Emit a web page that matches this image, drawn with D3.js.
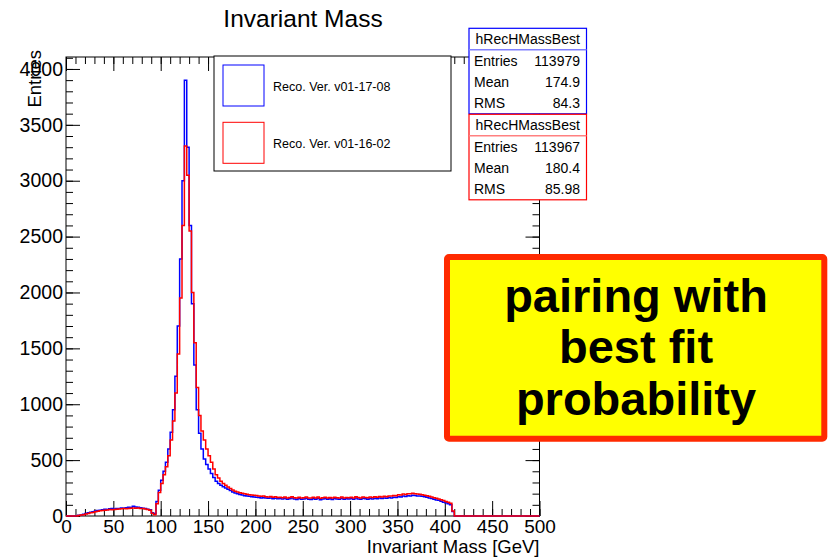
<!DOCTYPE html>
<html>
<head>
<meta charset="utf-8">
<script src="https://cdn.jsdelivr.net/npm/d3@7"></script>
<style>
  body { margin: 0; background: #fff; }
  text { font-family: "Liberation Sans", Arial, Helvetica, sans-serif; }
</style>
</head>
<body>
<div id="chart"></div>
<script>
// histogram binning (GeV)
const binLow = 0;
const binWidth = 2.5;

// counts per 2.5 GeV bin, 0..500 GeV, ten bins per row
const blueCounts = [
  0, 0, 0, 0, 3, 6, 10, 16, 22, 28,
  33, 38, 44, 50, 52, 56, 60, 58, 64, 66,
  62, 68, 66, 72, 70, 74, 78, 76, 88, 80,
  78, 74, 70, 66, 60, 55, 30, 20, 130, 230,
  320, 400, 480, 600, 750, 950, 1250, 1700, 2300, 3000,
  3900, 3300, 2600, 1900, 1350, 950, 740, 600, 510, 460,
  420, 380, 345, 310, 290, 275, 262, 250, 240, 228,
  215, 205, 198, 192, 188, 182, 180, 176, 172, 170,
  168, 165, 162, 164, 160, 158, 162, 155, 158, 154,
  156, 152, 158, 150, 154, 160, 152, 148, 156, 150,
  152, 158, 150, 148, 155, 150, 158, 146, 152, 156,
  150, 154, 148, 156, 152, 150, 158, 150, 154, 152,
  156, 150, 160, 152, 150, 158, 154, 150, 156, 152,
  158, 154, 160, 156, 162, 158, 166, 162, 168, 166,
  172, 170, 178, 174, 182, 180, 186, 184, 180, 178,
  176, 172, 168, 160, 156, 150, 144, 140, 132, 124,
  118, 110, 100, 40, 0, 0, 0, 0, 0, 0,
  0, 0, 0, 0, 0, 0, 0, 0, 0, 0,
  0, 0, 0, 0, 0, 0, 0, 0, 0, 0,
  0, 0, 0, 0, 0, 0, 0, 0, 0, 0
];

const redCounts = [
  0, 0, 0, 0, 1, 4, 8, 12, 18, 22,
  28, 32, 38, 42, 46, 50, 52, 54, 58, 56,
  58, 60, 62, 64, 66, 64, 68, 70, 72, 70,
  72, 68, 66, 62, 58, 52, 25, 12, 110, 210,
  290, 370, 440, 540, 680, 850, 1100, 1450, 1950, 2600,
  3310, 3050, 2550, 2000, 1550, 1150, 900, 760, 680, 600,
  540, 480, 420, 370, 340, 310, 290, 275, 260, 245,
  232, 222, 214, 208, 204, 198, 195, 190, 188, 186,
  184, 180, 176, 178, 172, 170, 174, 168, 172, 166,
  168, 164, 170, 162, 166, 172, 164, 160, 168, 162,
  164, 170, 162, 160, 168, 162, 170, 158, 164, 168,
  162, 166, 160, 168, 164, 162, 170, 162, 166, 164,
  168, 162, 172, 166, 162, 170, 166, 164, 170, 166,
  172, 168, 174, 170, 176, 172, 180, 178, 184, 182,
  190, 188, 196, 192, 200, 198, 204, 200, 196, 194,
  190, 186, 182, 176, 170, 164, 158, 152, 146, 138,
  130, 124, 115, 45, 0, 0, 0, 0, 0, 0,
  0, 0, 0, 0, 0, 0, 0, 0, 0, 0,
  0, 0, 0, 0, 0, 0, 0, 0, 0, 0,
  0, 0, 0, 0, 0, 0, 0, 0, 0, 0
];

const xTicks = [0, 50, 100, 150, 200, 250, 300, 350, 400, 450, 500];
const yTicks = [0, 500, 1000, 1500, 2000, 2500, 3000, 3500, 4000];
const xDomain = [0, 500];
const yDomain = [0, 4107];

const legendLabels = ["Reco. Ver. v01-17-08", "Reco. Ver. v01-16-02"];
const statsNames = ["hRecHMassBest", "hRecHMassBest"];
const statsRows = ["Entries", "Mean", "RMS"];
const statsBlue = ["113979", "174.9", "84.3"];
const statsRed = ["113967", "180.4", "85.98"];
const noteLines = ["pairing with", "best fit", "probability"];

const W = 835, H = 557;
const frame = {left: 66, right: 539.5, top: 57, bottom: 516};

const svg = d3.select("#chart").append("svg")
    .attr("width", W)
    .attr("height", H);

const x = d3.scaleLinear().domain(xDomain).range([frame.left, frame.right]);
const y = d3.scaleLinear().domain(yDomain).range([frame.bottom, frame.top]);

// frame
svg.append("rect")
    .attr("x", frame.left).attr("y", frame.top)
    .attr("width", frame.right - frame.left)
    .attr("height", frame.bottom - frame.top)
    .attr("fill", "none").attr("stroke", "#000").attr("stroke-width", 1);

// axes, ROOT style ticks pointing inward
function drawAxis(axisFn, scale, transform, values, size, labels) {
    let a = axisFn(scale).tickValues(values).tickSizeInner(size).tickSizeOuter(0);
    a.tickFormat(labels ? d3.format("d") : "");
    let g = svg.append("g").attr("transform", transform).call(a);
    g.select(".domain").remove();
    g.selectAll("line").attr("stroke", "#000").attr("stroke-width", 1);
    return g;
}
const xMinor = d3.range(0, 501, 10);
const yMinor = d3.range(0, 4101, 100);

let xb = drawAxis(d3.axisBottom, x, `translate(0,${frame.bottom})`, xTicks, -15, true);
xb.selectAll("text").attr("font-size", 19).attr("fill", "#000").attr("y", 4);
drawAxis(d3.axisBottom, x, `translate(0,${frame.bottom})`, xMinor, -7, false);
drawAxis(d3.axisTop, x, `translate(0,${frame.top})`, xTicks, -14, false);
drawAxis(d3.axisTop, x, `translate(0,${frame.top})`, xMinor, -7, false);

let yl = drawAxis(d3.axisLeft, y, `translate(${frame.left},0)`, yTicks, -14, true);
yl.selectAll("text").attr("font-size", 19.5).attr("fill", "#000").attr("x", -3);
drawAxis(d3.axisLeft, y, `translate(${frame.left},0)`, yMinor, -7, false);
drawAxis(d3.axisRight, y, `translate(${frame.right},0)`, yTicks, -14, false);
drawAxis(d3.axisRight, y, `translate(${frame.right},0)`, yMinor, -7, false);

// histograms
function histPoints(counts) {
    let pts = counts.map((c, i) => [binLow + i * binWidth, c]);
    pts.push([binLow + counts.length * binWidth, counts[counts.length - 1]]);
    return pts;
}
const line = d3.line()
    .x(d => x(d[0]))
    .y(d => y(d[1]))
    .curve(d3.curveStepAfter);

svg.append("path")
    .datum(histPoints(blueCounts))
    .attr("d", line)
    .attr("fill", "none").attr("stroke", "#0000ff").attr("stroke-width", 1.5);
svg.append("path")
    .datum(histPoints(redCounts))
    .attr("d", line)
    .attr("fill", "none").attr("stroke", "#ff0000").attr("stroke-width", 1.5);

// titles
svg.append("text")
    .attr("x", 303).attr("y", 27)
    .attr("text-anchor", "middle")
    .attr("font-size", 24.5)
    .text("Invariant Mass");

svg.append("text")
    .attr("x", frame.right).attr("y", 553)
    .attr("text-anchor", "end")
    .attr("font-size", 18.5)
    .text("Invariant Mass [GeV]");

svg.append("text")
    .attr("transform", "translate(41,50) rotate(-90)")
    .attr("text-anchor", "end")
    .attr("font-size", 18.5)
    .text("Entries");

// legend
let leg = svg.append("g");
leg.append("rect")
    .attr("x", 214).attr("y", 56).attr("width", 237).attr("height", 115)
    .attr("fill", "#fff").attr("stroke", "#000").attr("stroke-width", 1);
const legColors = ["#0000ff", "#ff0000"];
legendLabels.forEach((lab, i) => {
    let top = 65 + i * 57.3;
    leg.append("rect")
        .attr("x", 223).attr("y", top).attr("width", 41).attr("height", 41)
        .attr("fill", "none").attr("stroke", legColors[i]).attr("stroke-width", 1);
    leg.append("text")
        .attr("x", 273).attr("y", top + 25.5)
        .attr("font-size", 12.5)
        .text(lab);
});

// stats boxes
function statsBox(top, color, sepColor, name, values) {
    let g = svg.append("g");
    g.append("rect")
        .attr("x", 469).attr("y", top).attr("width", 117.5).attr("height", 85.5)
        .attr("fill", "#fff").attr("stroke", color).attr("stroke-width", 1.2);
    g.append("line")
        .attr("x1", 469).attr("x2", 586.5)
        .attr("y1", top + 21.5).attr("y2", top + 21.5)
        .attr("stroke", sepColor).attr("stroke-width", 1.5);
    g.append("text")
        .attr("x", 527.7).attr("y", top + 15.8)
        .attr("text-anchor", "middle").attr("font-size", 14)
        .text(name);
    statsRows.forEach((r, i) => {
        let by = top + 37.5 + i * 21.3;
        g.append("text").attr("x", 474).attr("y", by)
            .attr("font-size", 14).text(r);
        g.append("text").attr("x", 580).attr("y", by)
            .attr("text-anchor", "end").attr("font-size", 14).text(values[i]);
    });
}
statsBox(28.3, "#0000ff", "#8080ff", statsNames[0], statsBlue);
statsBox(114.3, "#ff0000", "#ff8080", statsNames[1], statsRed);

// annotation
let note = svg.append("g");
note.append("rect")
    .attr("x", 447).attr("y", 257).attr("width", 377.3).attr("height", 181.7)
    .attr("rx", 2)
    .attr("fill", "#ffff00").attr("stroke", "#ff2a00").attr("stroke-width", 6);
noteLines.forEach((t, i) => {
    note.append("text")
        .attr("x", 636).attr("y", 311.7 + i * 51.7)
        .attr("text-anchor", "middle")
        .attr("font-size", 47).attr("font-weight", "bold")
        .text(t);
});
</script>
</body>
</html>
